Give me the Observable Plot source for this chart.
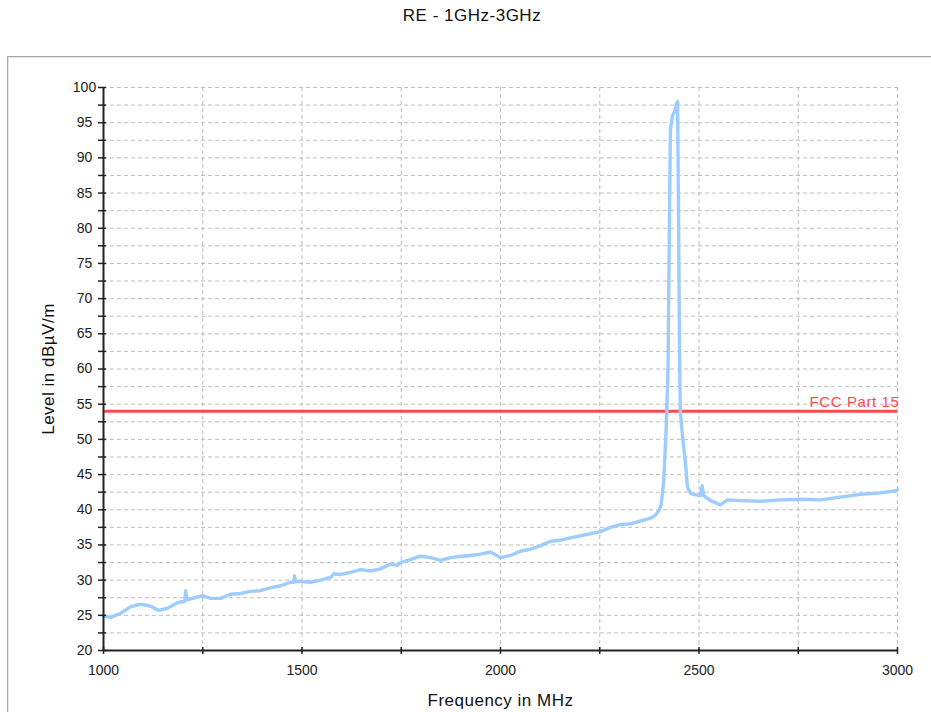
<!DOCTYPE html>
<html>
<head>
<meta charset="utf-8">
<script src="https://cdn.jsdelivr.net/npm/d3@7"></script>
<script src="https://cdn.jsdelivr.net/npm/@observablehq/plot@0.6"></script>
<style>
  body { margin: 0; background: #fff; }
  #wrap { position: relative; width: 931px; height: 712px; overflow: hidden; background: #fff; font-family: "Liberation Sans", Arial, sans-serif; }
  #frame { position: absolute; left: 7px; top: 56px; width: 1000px; height: 1000px; border: 1px solid #a8a8a8; box-shadow: inset 1px 1px 0 #e4e4e4; }
  #title { position: absolute; left: 0; top: 6px; width: 944px; text-align: center; font-size: 17px; letter-spacing: 0.5px; color: #111; }
  #chart { position: absolute; left: 0; top: 0; }
</style>
</head>
<body>
<div id="wrap">
  <div id="frame"></div>
  <div id="title">RE - 1GHz-3GHz</div>
  <div id="chart"></div>
</div>
<script>
const freq = [1000,1018,1043,1068,1093,1118,1139,1161,1186,1205,1207,1210,1237,1248,1270,1295,1320,1345,1370,1395,1420,1446,1471,1479,1481,1484,1496,1521,1547,1572,1580,1597,1622,1647,1673,1698,1723,1740,1748,1773,1798,1824,1849,1874,1899,1924,1950,1975,2000,2025,2050,2076,2101,2126,2151,2176,2202,2227,2252,2277,2302,2327,2353,2378,2390,2400,2405,2411,2417,2422,2426,2428,2433,2438,2443,2446,2448,2451,2453,2457,2466,2471,2479,2495,2504,2508,2512,2529,2554,2572,2605,2655,2705,2756,2806,2856,2907,2957,2995,3000];
const level = [24.9,24.7,25.3,26.2,26.6,26.3,25.7,26.0,26.8,27.0,28.5,27.2,27.6,27.8,27.4,27.4,28.0,28.1,28.4,28.5,28.9,29.2,29.7,29.7,30.6,29.8,29.8,29.7,30.0,30.4,30.9,30.8,31.1,31.5,31.3,31.6,32.3,32.1,32.5,32.9,33.4,33.2,32.8,33.2,33.4,33.5,33.7,34.0,33.2,33.5,34.1,34.4,34.9,35.5,35.7,36.0,36.3,36.6,36.9,37.5,37.9,38.0,38.4,38.8,39.2,40.0,40.8,44.0,51.0,60.0,84.0,94.0,96.0,96.5,97.5,98.0,85.0,62.0,54.1,51.3,46.6,43.2,42.3,42.1,42.0,43.4,42.0,41.3,40.7,41.4,41.3,41.2,41.4,41.5,41.4,41.8,42.2,42.4,42.7,42.8];

const limitName = "FCC Part 15";
const limitLevel = [54];

const yTicks = [20,22.5,25,27.5,30,32.5,35,37.5,40,42.5,45,47.5,50,52.5,55,57.5,60,62.5,65,67.5,70,72.5,75,77.5,80,82.5,85,87.5,90,92.5,95,97.5,100];
const yGrid = yTicks.filter(d => d > 20);
const xTicks = [1000,1250,1500,1750,2000,2250,2500,2750,3000];
const xGrid = xTicks.filter(d => d > 1000);

const data = freq.map((f, i) => ({f, v: level[i]}));

const gridStyle = {stroke: "#bdbdbd", strokeDasharray: "4,3", strokeWidth: 1, strokeOpacity: 1};

const chart = Plot.plot({
  width: 931,
  height: 712,
  marginLeft: 103,
  marginRight: 34,
  marginTop: 87,
  marginBottom: 62,
  style: {fontFamily: "Liberation Sans, Arial, sans-serif", fontSize: "14px", background: "transparent", color: "#222"},
  x: {domain: [1000, 3000]},
  y: {domain: [20, 100]},
  marks: [
    Plot.ruleY(yGrid, gridStyle),
    Plot.ruleX(xGrid, gridStyle),
    Plot.ruleY(limitLevel, {stroke: "#ff4a4a", strokeWidth: 3}),
    Plot.text([limitName], {x: 3000, y: limitLevel[0], text: d => d, textAnchor: "end", lineAnchor: "bottom", dy: -4, dx: 2, fill: "#ff4a4a", fontSize: 15}),
    Plot.line(data, {x: "f", y: "v", stroke: "#9dccff", strokeWidth: 3.4, strokeLinejoin: "round"}),
    Plot.ruleX([1000], {stroke: "#222", strokeWidth: 2}),
    Plot.ruleY([20], {stroke: "#222", strokeWidth: 2}),
    Plot.axisY(yTicks, {tickSize: 8, dx: 3, tickPadding: 14, textAnchor: "middle", stroke: "#222", strokeWidth: 1.5, fill: "#222", fontSize: 14, tickFormat: d => d % 5 === 0 ? String(d) : "", label: null}),
    Plot.axisX(xTicks, {tickSize: 7, dy: -3, tickPadding: 11, stroke: "#222", strokeWidth: 1.5, fill: "#222", fontSize: 14, tickFormat: d => d % 500 === 0 ? String(d) : "", label: null}),
    Plot.text(["Frequency in MHz"], {frameAnchor: "bottom", text: d => d, textAnchor: "middle", lineAnchor: "middle", dy: 50, fontSize: 17, fill: "#111"}),
    Plot.text(["Level in dBµV/m"], {frameAnchor: "left", text: d => d, textAnchor: "middle", lineAnchor: "middle", rotate: -90, dx: -55, fontSize: 17, fill: "#111"})
  ]
});
chart.querySelectorAll("text").forEach(t => {
  if (t.textContent === limitName) t.setAttribute("letter-spacing", "0.6");
  if (t.textContent === "Frequency in MHz" || t.textContent === "Level in dBµV/m") t.setAttribute("letter-spacing", "0.5");
});
document.getElementById("chart").appendChild(chart);
</script>
</body>
</html>
